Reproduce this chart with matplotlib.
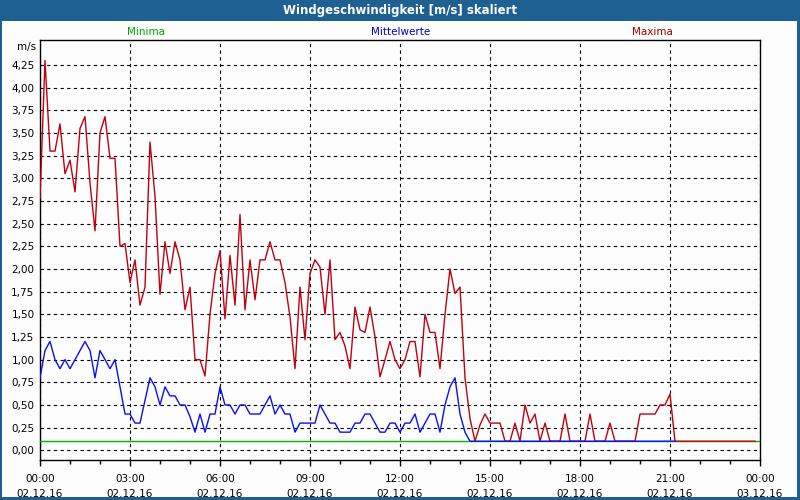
import matplotlib
matplotlib.use("Agg")
import matplotlib.pyplot as plt
from matplotlib.patches import Rectangle
from matplotlib.ticker import FuncFormatter, MultipleLocator
import numpy as np

# 10-minute values, 02.12.16 00:00 onwards
maxima = [
    2.78, 4.3, 3.3, 3.3, 3.6, 3.05, 3.2, 2.85, 3.55, 3.68,
    2.95, 2.42, 3.5, 3.68, 3.22, 3.22, 2.25, 2.28, 1.85, 2.1,
    1.6, 1.8, 3.4, 2.8, 1.72, 2.3, 1.95, 2.3, 2.1, 1.55,
    1.8, 1.0, 1.0, 0.82, 1.5, 1.95, 2.2, 1.45, 2.15, 1.6,
    2.6, 1.55, 2.1, 1.66, 2.1, 2.1, 2.3, 2.1, 2.1, 1.85,
    1.47, 0.9, 1.8, 1.22, 1.95, 2.1, 2.02, 1.5, 2.1, 1.22,
    1.3, 1.15, 0.9, 1.58, 1.33, 1.3, 1.58, 1.25, 0.81, 1.0,
    1.2, 1.0, 0.9, 1.0, 1.2, 1.2, 0.81, 1.5, 1.3, 1.3,
    0.9, 1.5, 2.0, 1.73, 1.8, 0.8, 0.35, 0.1, 0.28, 0.4,
    0.3, 0.3, 0.3, 0.1, 0.1, 0.3, 0.1, 0.5, 0.3, 0.4,
    0.1, 0.3, 0.1, 0.1, 0.1, 0.4, 0.1, 0.1, 0.1, 0.1,
    0.4, 0.1, 0.1, 0.1, 0.3, 0.1, 0.1, 0.1, 0.1, 0.1,
    0.4, 0.4, 0.4, 0.4, 0.5, 0.5, 0.62, 0.1, 0.1, 0.1,
    0.1, 0.1, 0.1, 0.1, 0.1, 0.1, 0.1, 0.1, 0.1, 0.1,
    0.1, 0.1, 0.1, 0.1,
]

mittel = [
    0.8, 1.1, 1.2, 1.0, 0.9, 1.0, 0.9, 1.0, 1.1, 1.2,
    1.1, 0.8, 1.1, 1.0, 0.9, 1.0, 0.7, 0.4, 0.4, 0.3,
    0.3, 0.55, 0.8, 0.7, 0.5, 0.7, 0.6, 0.6, 0.5, 0.5,
    0.37, 0.2, 0.4, 0.2, 0.4, 0.4, 0.7, 0.5, 0.5, 0.4,
    0.5, 0.5, 0.4, 0.4, 0.4, 0.5, 0.6, 0.4, 0.5, 0.4,
    0.4, 0.2, 0.3, 0.3, 0.3, 0.3, 0.5, 0.4, 0.3, 0.3,
    0.2, 0.2, 0.2, 0.3, 0.3, 0.4, 0.4, 0.3, 0.2, 0.2,
    0.3, 0.3, 0.2, 0.3, 0.3, 0.4, 0.2, 0.3, 0.4, 0.4,
    0.2, 0.5, 0.7, 0.8, 0.4, 0.2, 0.1, 0.1, 0.1, 0.1,
    0.1, 0.1, 0.1, 0.1, 0.1, 0.1, 0.1, 0.1, 0.1, 0.1,
    0.1, 0.1, 0.1, 0.1, 0.1, 0.1, 0.1, 0.1, 0.1, 0.1,
    0.1, 0.1, 0.1, 0.1, 0.1, 0.1, 0.1, 0.1, 0.1, 0.1,
    0.1, 0.1, 0.1, 0.1, 0.1, 0.1, 0.1, 0.1,
]

minima = [0.1, 0.1]  # flat over the whole day
minima_hours = [0, 24]

tick_hours = [0, 3, 6, 9, 12, 15, 18, 21, 24]
tick_labels = ["00:00\n02.12.16", "03:00\n02.12.16", "06:00\n02.12.16",
               "09:00\n02.12.16", "12:00\n02.12.16", "15:00\n02.12.16",
               "18:00\n02.12.16", "21:00\n02.12.16", "00:00\n03.12.16"]

BAR = "#1e6092"
BG = "#fcfdfc"

hours_max = np.arange(len(maxima)) / 6.0
hours_mit = np.arange(len(mittel)) / 6.0

fig = plt.figure(figsize=(8, 5), dpi=100, facecolor=BG)
ax = fig.add_axes([0.05, 0.08, 0.90, 0.84], facecolor=BG)

# title bar + window frame
fig.patches.append(Rectangle((0, 1 - 21 / 500), 1, 21 / 500, transform=fig.transFigure,
                             facecolor=BAR, edgecolor="none", zorder=0))
for rect in [(0, 0, 2 / 800, 1), (1 - 3 / 800, 0, 3 / 800, 1), (0, 0, 1, 3 / 500)]:
    fig.patches.append(Rectangle(rect[:2], rect[2], rect[3], transform=fig.transFigure,
                                 facecolor=BAR, edgecolor="none", zorder=0))
fig.text(0.5, 1 - 10.5 / 500, "Windgeschwindigkeit [m/s] skaliert", color="white",
         fontsize=8.5, fontweight="bold", ha="center", va="center")

fig.text(146 / 800, 1 - 32 / 500, "Minima", color="#00a000", fontsize=7.5, ha="center", va="center")
fig.text(401 / 800, 1 - 32 / 500, "Mittelwerte", color="#0000c8", fontsize=7.5, ha="center", va="center")
fig.text(652 / 800, 1 - 32 / 500, "Maxima", color="#a00000", fontsize=7.5, ha="center", va="center")
fig.text(36 / 800, 1 - 47 / 500, "m/s", color="black", fontsize=7.5, ha="right", va="center")

ax.plot(minima_hours, minima, color="#00b400", lw=1.0, zorder=3)
ax.plot(hours_max, maxima, color="#c00010", lw=1.0, zorder=4)
ax.plot(hours_mit, mittel, color="#0a10f0", lw=1.0, zorder=5)

ax.set_xlim(0, 24)
ax.set_ylim(-0.107, 4.525)
ax.set_xticks(tick_hours)
ax.set_xticklabels(tick_labels, fontsize=7.5, linespacing=1.6)
ax.xaxis.set_minor_locator(MultipleLocator(1))
ax.set_yticks(np.arange(0, 4.26, 0.25))
ax.yaxis.set_major_formatter(FuncFormatter(lambda v, p: f"{v:.2f}".replace(".", ",")))
ax.tick_params(axis="y", length=0, labelsize=7.5, pad=4)
ax.tick_params(axis="x", which="major", length=4, width=1, direction="out", pad=6)
ax.tick_params(axis="x", which="minor", length=3, width=1, direction="out")

ax.grid(True, color="black", linestyle=(0, (3, 3)), linewidth=0.8)
for s in ax.spines.values():
    s.set_color("black")
    s.set_linewidth(1.0)

fig.savefig("out.png", dpi=100, facecolor=BG)
